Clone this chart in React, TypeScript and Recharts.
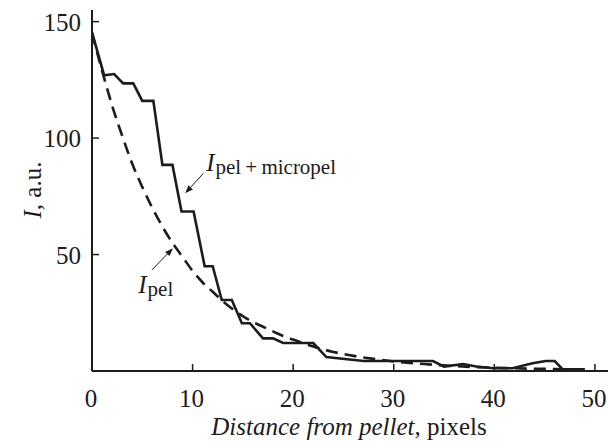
import { LineChart, Line, XAxis, YAxis, ReferenceLine, ReferenceDot } from 'recharts';

// solid staircase profile, I_pel+micropel
const combinedX = [0, 1.2, 2.2, 3.1, 4.1, 5.0, 6.1, 7.0, 8.0, 8.9, 10.1, 11.2, 12.0, 12.9, 13.9, 14.9, 15.7, 17.0, 18.0, 19.0, 22.0, 23.3, 27.0, 33.9, 35.0, 36.9, 38.2, 39.9, 41.8, 43.8, 45.1, 46.0, 46.8, 49.0];
const combinedY = [145.5, 127, 127.5, 123.5, 123.5, 116, 116, 88.5, 88.5, 68.5, 68.5, 45, 45, 30.5, 30.5, 20.5, 20.5, 14, 14, 12, 12, 6, 4.3, 4.3, 1.9, 3, 1.9, 1.2, 1.2, 3.3, 4.3, 4.3, 0.7, 0.7];

// dashed smooth profile, I_pel
const pelX = [0, 1, 2, 3, 4, 5, 6, 7, 8, 9, 10, 11, 12, 13, 14, 15, 16, 17, 18, 19, 20, 22, 24, 26, 28, 30, 33, 36, 40, 45, 49];
const pelY = [145, 129, 114, 101, 89, 79, 70, 62, 55, 49, 43, 38, 34, 30, 26.5, 23.5, 21, 19, 17, 15, 13.5, 10.5, 8.2, 6.5, 5.2, 4.1, 3, 2.1, 1.4, 0.9, 0.7];

const xTicks = [0, 10, 20, 30, 40, 50];
const yTicks = [50, 100, 150];

const combinedData = combinedX.map((x, i) => ({ x, y: combinedY[i] }));
const pelData = pelX.map((x, i) => ({ x, y: pelY[i] }));

const INK = '#1c1c1c';
const FONT = '"Liberation Serif", "DejaVu Serif", serif';

const XTick = ({ x, y, payload }: any) => (
  <g>
    <line x1={x} y1={y} x2={x} y2={y - 7} stroke={INK} strokeWidth={1.5} />
    <text x={x - 1} y={y + 36} textAnchor="middle" fontSize={25} fontFamily={FONT} fill={INK}>
      {payload.value}
    </text>
  </g>
);

const YTick = ({ x, y, payload }: any) => (
  <g>
    <line x1={x} y1={y} x2={x + 7} y2={y} stroke={INK} strokeWidth={1.5} />
    <text x={x - 11} y={y + 9} textAnchor="end" fontSize={25} fontFamily={FONT} fill={INK}>
      {payload.value}
    </text>
  </g>
);

const Arrow = ({ x1, y1, x2, y2 }: any) => {
  const a = Math.atan2(y2 - y1, x2 - x1);
  const len = 8;
  const w = 3;
  const bx = x2 - len * Math.cos(a);
  const by = y2 - len * Math.sin(a);
  const px = -Math.sin(a) * w;
  const py = Math.cos(a) * w;
  return (
    <g>
      <line x1={x1} y1={y1} x2={bx} y2={by} stroke={INK} strokeWidth={1} />
      <polygon points={`${x2},${y2} ${bx + px},${by + py} ${bx - px},${by - py}`} fill={INK} />
    </g>
  );
};

const subLabel = (sub: string) => ({ cx, cy }: any) => (
  <text x={cx} y={cy} fontFamily={FONT} fill={INK}>
    <tspan fontStyle="italic" fontSize={25}>I</tspan>
    <tspan fontSize={21} dx={1} dy={3}>{sub}</tspan>
  </text>
);

export default function App() {
  return (
    <div style={{ position: 'absolute', left: 0, top: 0, background: '#fff' }}>
      <LineChart width={610} height={441} margin={{ top: 10, right: 2, bottom: 0, left: 0 }}>
        <XAxis
          type="number"
          dataKey="x"
          domain={[0, 51.3]}
          ticks={xTicks}
          tickSize={0}
          tickMargin={0}
          tickLine={false}
          tick={<XTick />}
          height={70}
          axisLine={{ stroke: INK, strokeWidth: 2 }}
          allowDataOverflow
          label={{
            content: () => (
              <text x={349} y={435} textAnchor="middle" fontSize={25} fontFamily={FONT} fill={INK}>
                <tspan fontStyle="italic">Distance from pellet</tspan>, pixels
              </text>
            ),
          }}
        />
        <YAxis
          type="number"
          domain={[0, 155]}
          ticks={yTicks}
          tickSize={0}
          tickMargin={0}
          tickLine={false}
          tick={<YTick />}
          width={92}
          axisLine={{ stroke: INK, strokeWidth: 2 }}
          allowDataOverflow
          label={{
            content: () => (
              <text
                x={41}
                y={190}
                transform="rotate(-90, 41, 190)"
                textAnchor="middle"
                fontSize={25}
                fontFamily={FONT}
                fill={INK}
              >
                <tspan fontStyle="italic">I</tspan>, a.u.
              </text>
            ),
          }}
        />
        <Line
          data={pelData}
          dataKey="y"
          type="monotone"
          stroke={INK}
          strokeWidth={2.6}
          strokeDasharray="12 7"
          dot={false}
          isAnimationActive={false}
        />
        <Line
          data={combinedData}
          dataKey="y"
          type="linear"
          stroke={INK}
          strokeWidth={2.6}
          dot={false}
          isAnimationActive={false}
        />
        <ReferenceLine
          segment={[{ x: 11.08, y: 84.9 }, { x: 9.27, y: 76.3 }]}
          shape={Arrow}
          ifOverflow="visible"
        />
        <ReferenceLine
          segment={[{ x: 5.96, y: 43.4 }, { x: 8.04, y: 52.7 }]}
          shape={Arrow}
          ifOverflow="visible"
        />
        <ReferenceDot x={11.35} y={86} shape={subLabel('pel\u2009+\u2009micropel')} ifOverflow="visible" />
        <ReferenceDot x={4.6} y={33.4} shape={subLabel('pel')} ifOverflow="visible" />
      </LineChart>
    </div>
  );
}
